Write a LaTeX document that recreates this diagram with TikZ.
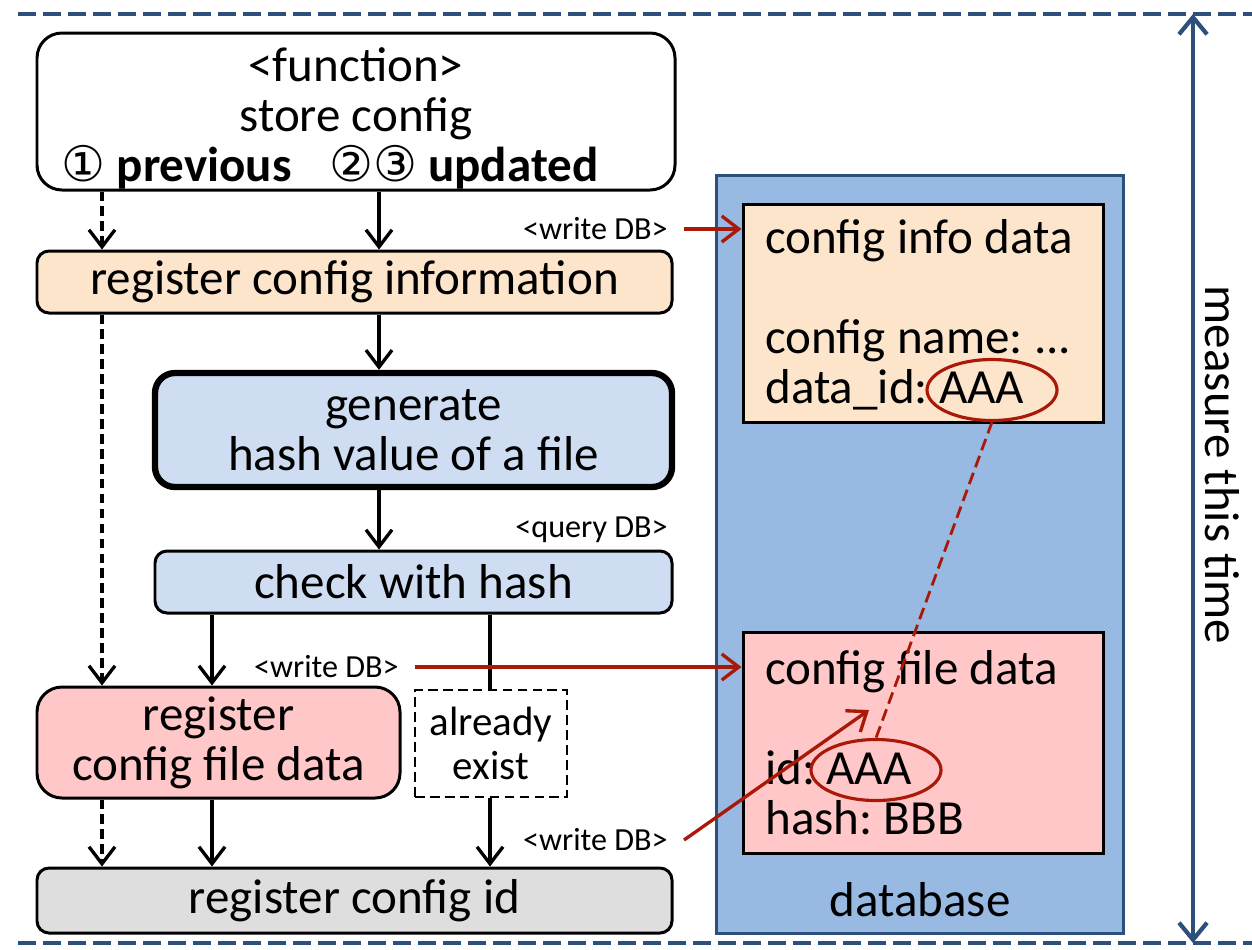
\documentclass[tikz,border=0pt]{standalone}
\usepackage{fontspec}
\setmainfont{Carlito}
\newfontfamily\circfont{DejaVu Sans}
\usetikzlibrary{arrows.meta,shapes.geometric}
\definecolor{fnorange}{RGB}{253,229,204}
\definecolor{fnblue}{RGB}{207,221,242}
\definecolor{fnpink}{RGB}{255,199,199}
\definecolor{fngray}{RGB}{222,222,222}
\definecolor{dbblue}{RGB}{151,185,226}
\definecolor{dbframe}{RGB}{44,79,124}
\definecolor{wred}{RGB}{170,24,8}
\frenchspacing
\begin{document}
\begin{tikzpicture}[
	font=\fontsize{27.9}{28.45}\selectfont,
	proc/.style={draw, line width=1.7pt, rounded corners=2.4mm, align=center, inner sep=0pt},
	store/.style={draw, line width=1.7pt, minimum width=7.2cm, inner sep=0pt},
	entry/.style={anchor=west, align=left, inner sep=0pt},
	tag/.style={font=\fontsize{18.3}{18.3}\selectfont, inner xsep=0.32cm, inner ysep=0pt, anchor=east},
	flow/.style={line width=1.9pt, -{Straight Barb[length=3.4mm,width=5.2mm]}},
	skip/.style={dash pattern=on 5.5pt off 3pt},
	dbflow/.style={flow, color=wred},
	ring/.style={draw=wred, line width=1.8pt, ellipse, minimum width=2.6cm, minimum height=1.22cm, inner sep=0pt},
	timeline/.style={dbframe, line width=2.8pt, dash pattern=on 3.6mm off 1.4mm}
	]
	\useasboundingbox (0,0) rectangle (25.04,-18.98);
	
	\draw[timeline] (0.36,-0.28) -- (25.04,-0.28);
	\draw[timeline] (0.36,-18.86) -- (25.04,-18.86);
	\coordinate (ttop) at (23.86,-0.28);
	\coordinate (tbot) at (23.86,-18.86);
	\draw[dbframe, line width=2.4pt, {Straight Barb[length=3.4mm,width=5.6mm]}-{Straight Barb[length=3.4mm,width=5.6mm]}] (ttop) -- (tbot);
	\node[rotate=-90] (mlabel) at (24.44,-9.3) {measure this time};
	
	% function flow
	\node[proc, rounded corners=5mm, minimum width=12.76cm, minimum height=3.14cm] (func) at (7.12,-2.23)
		{\rule{0pt}{0.95cm}<function>\\store config\\{\circfont ①} \textbf{previous}\hspace{0.75cm}{\circfont ②③} \textbf{updated}\hspace*{1.04cm}};
	\node[proc, fill=fnorange, minimum width=12.7cm, minimum height=1.24cm] (info) at (7.09,-5.64) {register config information};
	\node[proc, fill=fnblue, line width=3.6pt, rounded corners=4mm, minimum width=10.34cm, minimum height=2.28cm] (gen) at (8.27,-8.6) {generate\\hash value of a file};
	\node[proc, fill=fnblue, minimum width=10.34cm, minimum height=1.24cm] (check) at (8.27,-11.64) {check with hash};
	\node[proc, fill=fnpink, rounded corners=5mm, minimum width=7.26cm, minimum height=2.22cm] (regfile) at (4.37,-14.85) {register\\config file data};
	\node[draw, skip, line width=1.6pt, align=center, minimum width=3.04cm, minimum height=2.14cm, font=\fontsize{23.3}{25}\selectfont] (exist) at (9.82,-14.87) {already\\exist};
	\node[proc, fill=fngray, minimum width=12.7cm, minimum height=1.3cm] (regid) at (7.09,-18.01) {register config id};
	
	\coordinate (laneA) at (2.04,0);
	\coordinate (laneB) at (7.58,0);
	\coordinate (laneC) at (4.24,0);
	\coordinate (laneD) at (9.8,0);
	\draw[flow, skip] (laneA |- func.south) -- (laneA |- info.north);
	\draw[flow] (laneB |- func.south) -- (laneB |- info.north);
	\draw[flow] (laneB |- info.south) -- (laneB |- gen.north);
	\draw[flow, skip] (laneA |- info.south) -- (laneA |- regfile.north);
	\draw[flow] (laneB |- gen.south) -- (laneB |- check.north);
	\draw[flow] (laneC |- check.south) -- (laneC |- regfile.north);
	\draw[line width=1.9pt] (laneD |- check.south) -- (laneD |- exist.north);
	\draw[flow, skip] (laneA |- regfile.south) -- (laneA |- regid.north);
	\draw[flow] (laneC |- regfile.south) -- (laneC |- regid.north);
	\draw[flow] (laneD |- exist.south) -- (laneD |- regid.north);
	
	% database
	\node[draw=dbframe, fill=dbblue, line width=1.7pt, minimum width=8.14cm, minimum height=15.16cm, inner sep=0pt] (db) at (18.39,-11.08) {};
	\node (dblabel) at (18.4,-18.0) {database};
	\node[store, fill=fnorange, minimum height=4.36cm] (dbinfo) at (18.46,-6.26) {};
	\node[store, fill=fnpink, minimum height=4.42cm] (dbfile) at (18.46,-14.85) {};
	\node[entry] (infotext) at (15.3,-6.3) {config info data\\[1cm]config name: ...\\data\_id: AAA};
	\node[entry] (filetext) at (15.3,-14.86) {config file data\\[1cm]id: AAA\\hash: BBB};
	\node[ring] (aaa1) at (19.84,-7.8) {};
	\node[ring] (aaa2) at (17.52,-15.4) {};
	\draw[wred, line width=1.6pt, dash pattern=on 2.4mm off 1.2mm] (aaa1.south) -- (aaa2.north);
	
	\node[tag] (w1) at (13.68,-4.58) {<write DB>};
	\node[tag] (q1) at (13.68,-10.6) {<query DB>};
	\node[tag] (w2) at (8.3,-13.34) {<write DB>};
	\node[tag] (w3) at (13.68,-16.8) {<write DB>};
	\coordinate (fileentry) at (17.38,-14.2);
	\draw[dbflow] (w1.east) -- (w1.east -| dbinfo.west);
	\draw[dbflow] (w2.east) -- (w2.east -| dbfile.west);
	\draw[dbflow] (w3.east) -- (fileentry);
\end{tikzpicture}
\end{document}
